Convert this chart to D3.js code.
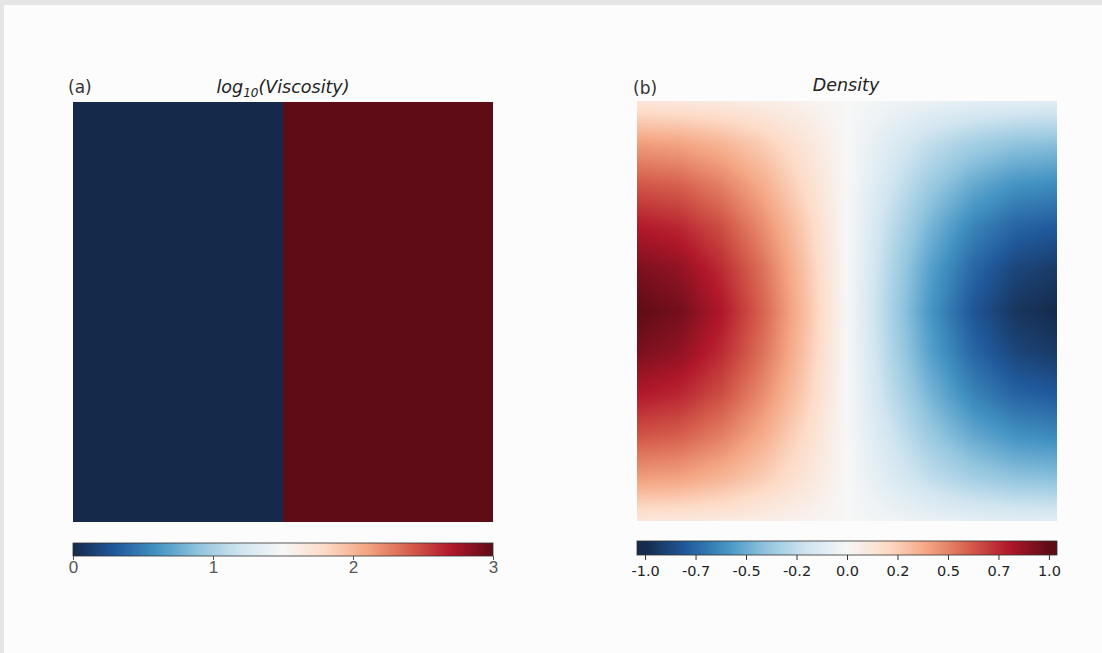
<!DOCTYPE html>
<html>
<head>
<meta charset="utf-8">
<script src="https://cdn.jsdelivr.net/npm/d3@7"></script>
<style>
  body { margin: 0; background: #e5e5e5; }
  svg { display: block; }
</style>
</head>
<body>
<div id="chart"></div>
<script>
// ---- data ----
// panel (a): log10 viscosity, two halves of the box
const viscosityCols = ['left', 'right'];
const viscosityValues = [0, 3];
const viscosityTicks = [0, 1, 2, 3];

// panel (b): density sampled on an 11 x 11 grid (rows top -> bottom, cols left -> right)
const densityRows = [
  [0.12, 0.11, 0.10, 0.07, 0.04, 0, -0.04, -0.07, -0.10, -0.11, -0.12],
  [0.42, 0.40, 0.34, 0.25, 0.13, 0, -0.13, -0.25, -0.34, -0.40, -0.42],
  [0.63, 0.60, 0.51, 0.37, 0.19, 0, -0.19, -0.37, -0.51, -0.60, -0.63],
  [0.80, 0.76, 0.65, 0.47, 0.25, 0, -0.25, -0.47, -0.65, -0.76, -0.80],
  [0.93, 0.88, 0.75, 0.55, 0.29, 0, -0.29, -0.55, -0.75, -0.88, -0.93],
  [1.00, 0.95, 0.81, 0.59, 0.31, 0, -0.31, -0.59, -0.81, -0.95, -1.00],
  [0.93, 0.88, 0.75, 0.55, 0.29, 0, -0.29, -0.55, -0.75, -0.88, -0.93],
  [0.80, 0.76, 0.65, 0.47, 0.25, 0, -0.25, -0.47, -0.65, -0.76, -0.80],
  [0.63, 0.60, 0.51, 0.37, 0.19, 0, -0.19, -0.37, -0.51, -0.60, -0.63],
  [0.42, 0.40, 0.34, 0.25, 0.13, 0, -0.13, -0.25, -0.34, -0.40, -0.42],
  [0.12, 0.11, 0.10, 0.07, 0.04, 0, -0.04, -0.07, -0.10, -0.11, -0.12]
];
const densityTicks = [-1, -0.75, -0.5, -0.25, 0, 0.25, 0.5, 0.75, 1];
const densityTickLabels = ['-1.0', '-0.7', '-0.5', '-0.2', '0.0', '0.2', '0.5', '0.7', '1.0'];
const densityBarRange = [-1.04, 1.04];

// reversed RdBu, low -> high
const cmapColors = ['#152a4b', '#20599b', '#4393c3', '#92c5de', '#d1e5f0', '#f7f7f7',
                    '#fddbc7', '#f4a582', '#d6604d', '#b2182b', '#5e0c16'];

const W = 1102, H = 653;
const size = 420;
const panels = {
  a: { x: 73, y: 102, cbY: 543 },
  b: { x: 637, y: 101, cbY: 541 }
};

const svg = d3.select('#chart').append('svg').attr('width', W).attr('height', H);
svg.append('rect').attr('x', 4).attr('y', 5).attr('width', W - 4).attr('height', H - 5).attr('fill', '#fcfcfc');

function makeCmap(lo, hi) {
  return d3.scaleLinear()
    .domain(d3.range(cmapColors.length).map(i => lo + (hi - lo) * i / (cmapColors.length - 1)))
    .range(cmapColors)
    .interpolate(d3.interpolateRgb)
    .clamp(true);
}

const viscColor = makeCmap(0, 3);
const densColor = makeCmap(-1, 1);

const defs = svg.append('defs');

function colorbar(id, color, lo, hi, px, py, h) {
  const grad = defs.append('linearGradient').attr('id', id).attr('x1', '0%').attr('x2', '100%');
  d3.range(0, 1.0001, 0.02).forEach(t => {
    grad.append('stop').attr('offset', (t * 100) + '%').attr('stop-color', color(lo + (hi - lo) * t));
  });
  svg.append('rect').attr('x', px).attr('y', py).attr('width', size).attr('height', h)
    .attr('fill', 'url(#' + id + ')').attr('stroke', '#333').attr('stroke-width', 0.8);
  return d3.scaleLinear().domain([lo, hi]).range([px, px + size]);
}

// ---- panel (a) ----
const pa = panels.a;
const xa = d3.scaleBand().domain(viscosityCols).range([pa.x, pa.x + size]);
svg.append('g').selectAll('rect').data(viscosityValues).join('rect')
  .attr('x', (d, i) => xa(viscosityCols[i]))
  .attr('y', pa.y)
  .attr('width', xa.bandwidth())
  .attr('height', size)
  .attr('fill', d => viscColor(d));

svg.append('text').attr('x', 68).attr('y', 93)
  .style('font-family', 'DejaVu Sans').style('font-size', '17px').attr('fill', '#333').text('(a)');
const ta = svg.append('text').attr('x', pa.x + size / 2).attr('y', 93).attr('text-anchor', 'middle')
  .style('font-family', 'DejaVu Sans').style('font-size', '17.5px').style('font-style', 'italic').attr('fill', '#222');
ta.append('tspan').text('log');
ta.append('tspan').attr('dy', 4).style('font-size', '12px').text('10');
ta.append('tspan').attr('dy', -4).text('(Viscosity)');

const cbA = colorbar('cbA', viscColor, 0, 3, pa.x, pa.cbY, 13);
const axA = svg.append('g').attr('transform', 'translate(0,' + (pa.cbY + 13) + ')')
  .call(d3.axisBottom(cbA).tickValues(viscosityTicks).tickSize(4).tickPadding(1).tickFormat(d3.format('d')));
axA.select('.domain').remove();
axA.selectAll('line').attr('stroke', '#555');
axA.selectAll('text').style('font-family', 'Liberation Sans').style('font-size', '17px').attr('fill', '#555');

// ---- panel (b) ----
const pb = panels.b;
const nR = densityRows.length, nC = densityRows[0].length;
const gx = d3.scaleLinear().domain([0, size - 1]).range([0, nC - 1]);
const gy = d3.scaleLinear().domain([0, size - 1]).range([0, nR - 1]);
const canvas = document.createElement('canvas');
canvas.width = size; canvas.height = size;
const ctx = canvas.getContext('2d');
const img = ctx.createImageData(size, size);
for (let py = 0; py < size; py++) {
  const fy = gy(py), r0 = Math.min(Math.floor(fy), nR - 2), ty = fy - r0;
  for (let px = 0; px < size; px++) {
    const fx = gx(px), c0 = Math.min(Math.floor(fx), nC - 2), tx = fx - c0;
    const v = (1 - ty) * ((1 - tx) * densityRows[r0][c0] + tx * densityRows[r0][c0 + 1]) +
              ty * ((1 - tx) * densityRows[r0 + 1][c0] + tx * densityRows[r0 + 1][c0 + 1]);
    const c = d3.rgb(densColor(v));
    const k = (py * size + px) * 4;
    img.data[k] = c.r; img.data[k + 1] = c.g; img.data[k + 2] = c.b; img.data[k + 3] = 255;
  }
}
ctx.putImageData(img, 0, 0);
svg.append('image').attr('x', pb.x).attr('y', pb.y).attr('width', size).attr('height', size)
  .attr('href', canvas.toDataURL());

svg.append('text').attr('x', 633).attr('y', 94)
  .style('font-family', 'DejaVu Sans').style('font-size', '17px').attr('fill', '#333').text('(b)');
svg.append('text').attr('x', pb.x + size / 2 - 1).attr('y', 91).attr('text-anchor', 'middle')
  .style('font-family', 'DejaVu Sans').style('font-size', '17.5px').style('font-style', 'italic').attr('fill', '#222')
  .text('Density');

const cbB = colorbar('cbB', densColor, densityBarRange[0], densityBarRange[1], pb.x, pb.cbY, 14);
const axB = svg.append('g').attr('transform', 'translate(0,' + (pb.cbY + 14) + ')')
  .call(d3.axisBottom(cbB).tickValues(densityTicks).tickSize(5).tickPadding(6)
    .tickFormat((d, i) => densityTickLabels[i]));
axB.select('.domain').remove();
axB.selectAll('line').attr('stroke', '#333');
axB.selectAll('text').style('font-family', 'DejaVu Sans').style('font-size', '14.5px').attr('fill', '#222');
</script>
</body>
</html>
